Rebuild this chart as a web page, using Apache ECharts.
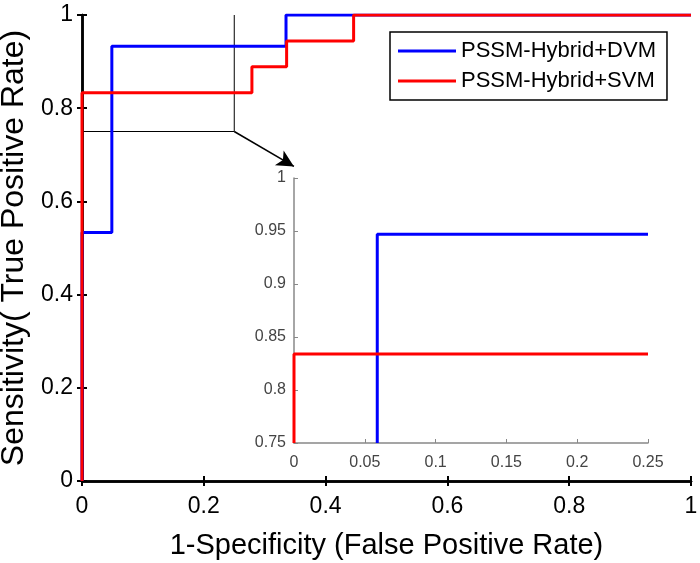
<!DOCTYPE html>
<html>
<head>
<meta charset="utf-8">
<script src="https://cdn.jsdelivr.net/npm/echarts@6/dist/echarts.min.js"></script>
<style>
html,body{margin:0;padding:0;background:#fff;}
#c{width:700px;height:563px;}
</style>
</head>
<body>
<div id="c"></div>
<script>
// ---- data ----
var seriesNames = ['PSSM-Hybrid+DVM', 'PSSM-Hybrid+SVM'];
// main ROC curves (step points: horizontal then vertical)
var dvmFpr = [0, 0, 0.049, 0.335, 1];
var dvmTpr = [0, 0.533, 0.933, 1, 1];
var svmFpr = [0, 0, 0.279, 0.336, 0.446, 1];
var svmTpr = [0, 0.833, 0.889, 0.944, 1, 1];
// zoomed inset curves
var dvmInsetFpr = [0.0588, 0.0588, 0.25];
var dvmInsetTpr = [0.75, 0.947, 0.947];
var svmInsetFpr = [0, 0, 0.25];
var svmInsetTpr = [0.75, 0.834, 0.834];
// zoom window marked on the main plot
var zoomRectX = [0, 0.25, 0.25];
var zoomRectY = [0.75, 0.75, 1];
var arrowFrom = [0.25, 0.75];
var arrowTo = [0.348, 0.675];
// tick labels
var mainTicks = [0, 0.2, 0.4, 0.6, 0.8, 1];
var insetXTicks = [0, 0.05, 0.1, 0.15, 0.2, 0.25];
var insetYTicks = [0.75, 0.8, 0.85, 0.9, 0.95, 1];
var xTitle = '1-Specificity (False Positive Rate)';
var yTitle = 'Sensitivity( True Positive Rate)';

function pairs(xs, ys) { return xs.map(function (x, i) { return [x, ys[i]]; }); }

var FONT = 'Liberation Sans, Arial, sans-serif';
var BLUE = '#0000ff', RED = '#ff0000';

var chart = echarts.init(document.getElementById('c'), null, {renderer: 'canvas'});

var mainAxisCommon = {
  min: mainTicks[0], max: mainTicks[mainTicks.length - 1], interval: 0.2,
  splitLine: {show: false},
  axisLine: {lineStyle: {color: '#000', width: 2.5}},
  axisTick: {inside: true, length: 5, lineStyle: {color: '#000', width: 2}}
};

var option = {
  animation: false,
  backgroundColor: '#fff',
  grid: [
    {left: 82, top: 15, width: 609, height: 466, containLabel: false, outerBoundsMode: 'none'},
    {left: 294, top: 178, width: 354, height: 265, containLabel: false, outerBoundsMode: 'none'}
  ],
  legend: {
    data: seriesNames,
    orient: 'vertical',
    left: 390, top: 32,
    backgroundColor: '#fff',
    borderColor: '#000', borderWidth: 1.5, borderRadius: 0,
    padding: [8, 11, 8, 8],
    itemGap: 8,
    itemWidth: 58, itemHeight: 3,
    icon: 'rect',
    textStyle: {fontFamily: FONT, fontSize: 22, color: '#000', padding: [0, 0, 0, 0]}
  },
  xAxis: [
    Object.assign({}, mainAxisCommon, {
      type: 'value', gridIndex: 0, position: 'bottom',
      name: xTitle, nameLocation: 'middle', nameGap: 50,
      nameTextStyle: {fontFamily: FONT, fontSize: 29, color: '#000'},
      axisLabel: {fontFamily: FONT, fontSize: 23, color: '#000', margin: 14}
    }),
    Object.assign({}, mainAxisCommon, {
      type: 'value', gridIndex: 0, position: 'top',
      axisLabel: {show: false}
    }),
    {
      type: 'value', gridIndex: 1, position: 'bottom',
      min: insetXTicks[0], max: insetXTicks[insetXTicks.length - 1], interval: 0.05,
      splitLine: {show: false},
      axisLine: {lineStyle: {color: '#888', width: 1.5}},
      axisTick: {inside: true, length: 4, lineStyle: {color: '#888', width: 1}},
      axisLabel: {fontFamily: FONT, fontSize: 16, color: '#444', margin: 12}
    }
  ],
  yAxis: [
    Object.assign({}, mainAxisCommon, {
      type: 'value', gridIndex: 0, position: 'left',
      name: yTitle, nameLocation: 'middle', nameGap: 42, nameRotate: 90,
      nameTextStyle: {fontFamily: FONT, fontSize: 32, color: '#000'},
      axisLabel: {fontFamily: FONT, fontSize: 23, color: '#000', margin: 9}
    }),
    Object.assign({}, mainAxisCommon, {
      type: 'value', gridIndex: 0, position: 'right',
      axisLabel: {show: false}
    }),
    {
      type: 'value', gridIndex: 1, position: 'left',
      min: insetYTicks[0], max: insetYTicks[insetYTicks.length - 1], interval: 0.05,
      splitLine: {show: false},
      axisLine: {lineStyle: {color: '#888', width: 1.5}},
      axisTick: {inside: true, length: 4, lineStyle: {color: '#888', width: 1}},
      axisLabel: {fontFamily: FONT, fontSize: 16, color: '#444', margin: 8}
    }
  ],
  series: [
    {
      type: 'line', name: 'zoomwin', xAxisIndex: 0, yAxisIndex: 0,
      data: pairs(zoomRectX, zoomRectY),
      symbol: 'none', silent: true, z: 1,
      lineStyle: {color: '#000', width: 1},
      markLine: {
        silent: true, symbol: ['none', 'arrow'], symbolSize: [13, 17],
        label: {show: false},
        lineStyle: {color: '#000', width: 1.5, type: 'solid'},
        data: [[{coord: arrowFrom}, {coord: arrowTo}]]
      }
    },
    {
      type: 'line', name: seriesNames[0], xAxisIndex: 0, yAxisIndex: 0,
      data: pairs(dvmFpr, dvmTpr), step: 'end',
      symbol: 'none', color: BLUE,
      lineStyle: {color: BLUE, width: 3}, z: 3
    },
    {
      type: 'line', name: seriesNames[1], xAxisIndex: 0, yAxisIndex: 0,
      data: pairs(svmFpr, svmTpr), step: 'end',
      symbol: 'none', color: RED,
      lineStyle: {color: RED, width: 3}, z: 4
    },
    {
      type: 'line', name: 'dvmInset', xAxisIndex: 2, yAxisIndex: 2,
      data: pairs(dvmInsetFpr, dvmInsetTpr),
      symbol: 'none', color: BLUE,
      lineStyle: {color: BLUE, width: 3}, z: 3
    },
    {
      type: 'line', name: 'svmInset', xAxisIndex: 2, yAxisIndex: 2,
      data: pairs(svmInsetFpr, svmInsetTpr),
      symbol: 'none', color: RED,
      lineStyle: {color: RED, width: 3}, z: 4
    }
  ]
};
chart.setOption(option);
</script>
</body>
</html>
